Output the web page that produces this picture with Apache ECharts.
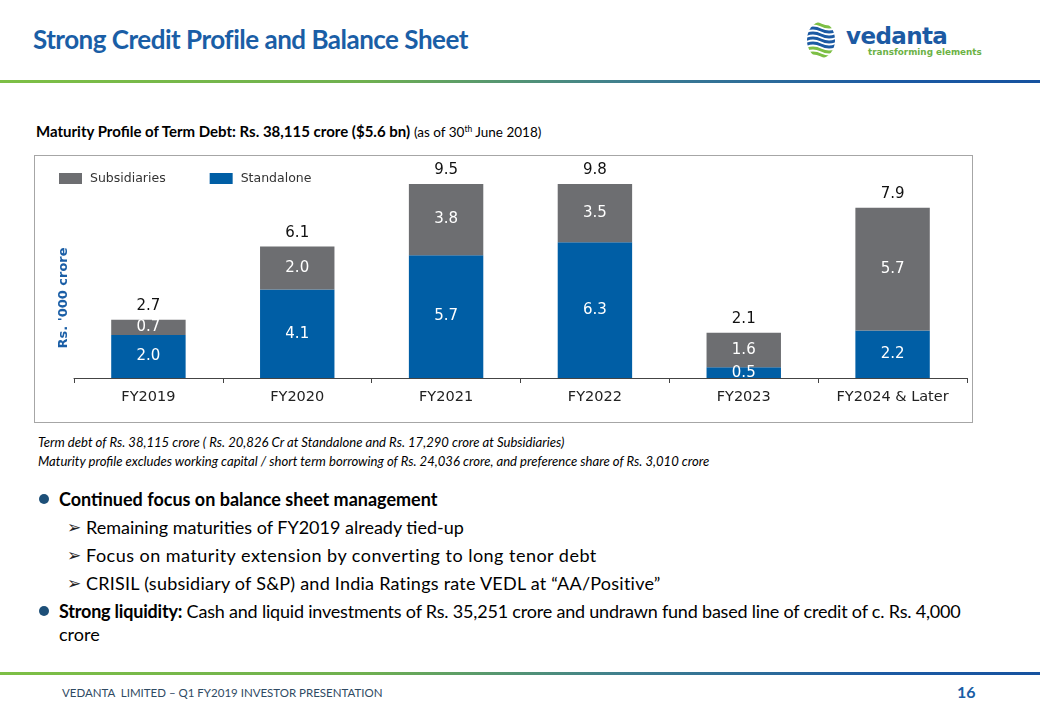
<!DOCTYPE html>
<html>
<head>
<meta charset="utf-8">
<script src="https://cdn.jsdelivr.net/npm/echarts@6/dist/echarts.min.js"></script>
<style>
  html, body { margin:0; padding:0; background:#fff; }
  body { width:1040px; height:720px; position:relative; overflow:hidden; font-family: Lato, "Open Sans", sans-serif; color:#000; }
  .t { position:absolute; white-space:nowrap; line-height:24px; }
  .rule { position:absolute; left:0; width:1040px; height:3px; background:linear-gradient(to right, #7dbf45 0%, #6fb04f 35%, #3f7f8f 60%, #1c5aa3 85%, #16529f 100%); }
  .dot { position:absolute; width:10px; height:10px; border-radius:50%; background:#1d4f78; }
  .arr { position:absolute; font-family:"DejaVu Sans"; font-size:17px; line-height:20px; color:#222; }
  #box { position:absolute; left:34px; top:155px; width:937px; height:266px; border:1px solid #a6a6a6; }
  #chart { position:absolute; left:-1px; top:-1px; width:939px; height:268px; }
</style>
</head>
<body>
<div class="t" style="left:33px; top:21px; font-size:26px; line-height:36px; font-weight:700; color:#1a5ea6; letter-spacing:-0.5px;">Strong Credit Profile and Balance Sheet</div>

<svg style="position:absolute; left:805px; top:20px;" width="32" height="40" viewBox="0 0 32 40">
  <defs><clipPath id="c"><ellipse cx="16" cy="20" rx="14" ry="18"/></clipPath></defs>
  <g clip-path="url(#c)" fill="none" stroke-width="3" stroke-linecap="round">
    <path d="M0 5 Q8 1 16 5 T32 5" stroke="#7dbf45"/>
    <path d="M0 10 Q8 6 16 10 T32 10" stroke="#1c5aa3"/>
    <path d="M0 15 Q8 11 16 15 T32 15" stroke="#1c5aa3"/>
    <path d="M0 20 Q8 16 16 20 T32 20" stroke="#1c5aa3"/>
    <path d="M0 25 Q8 21 16 25 T32 25" stroke="#1c5aa3"/>
    <path d="M0 30 Q8 26 16 30 T32 30" stroke="#7dbf45"/>
    <path d="M0 35 Q8 31 16 35 T32 35" stroke="#7dbf45"/>
  </g>
</svg>
<div class="t" style="left:846px; top:22px; font-family:'DejaVu Sans'; font-weight:700; font-size:23px; line-height:28px; color:#1c5aa3; letter-spacing:-0.6px;">vedanta</div>
<div class="t" style="left:868px; top:45px; font-family:'DejaVu Sans'; font-weight:700; font-size:8.8px; line-height:14px; color:#6cb245;">transforming elements</div>

<div class="rule" style="top:80px;"></div>

<div class="t" style="left:36px; top:116px; font-size:15px; line-height:24px;"><b>Maturity Profile of Term Debt: Rs. 38,115 crore ($5.6 bn)</b> <span style="font-size:13.5px;">(as of 30<sup style="font-size:8.5px;">th</sup> June 2018)</span></div>

<div id="box"><div id="chart"></div></div>

<div class="t" style="left:38px; top:432px; font-size:13.1px; line-height:20px; font-style:italic;">Term debt of Rs. 38,115 crore ( Rs. 20,826 Cr at Standalone and Rs. 17,290 crore at Subsidiaries)</div>
<div class="t" style="left:38px; top:451px; font-size:13.1px; line-height:20px; font-style:italic;">Maturity profile excludes working capital / short term borrowing of Rs. 24,036 crore, and preference share of Rs. 3,010 crore</div>

<div class="dot" style="left:39px; top:494px;"></div>
<div class="t" style="left:59px; top:487px; font-size:18px; font-weight:700;">Continued focus on balance sheet management</div>
<div class="arr" style="left:67px; top:517px;">➢</div>
<div class="t" style="left:86px; top:515px; font-size:18px;">Remaining maturities of FY2019 already tied-up</div>
<div class="arr" style="left:67px; top:545px;">➢</div>
<div class="t" style="left:86px; top:543px; font-size:18px; letter-spacing:0.48px;">Focus on maturity extension by converting to long tenor debt</div>
<div class="arr" style="left:67px; top:573px;">➢</div>
<div class="t" style="left:86px; top:571px; font-size:18px; letter-spacing:0.24px;">CRISIL (subsidiary of S&amp;P) and India Ratings rate VEDL at “AA/Positive”</div>
<div class="dot" style="left:39px; top:606px;"></div>
<div class="t" style="left:59px; top:599px; font-size:18px; letter-spacing:-0.2px;"><b>Strong liquidity:</b> Cash and liquid investments of Rs. 35,251 crore and undrawn fund based line of credit of c. Rs. 4,000</div>
<div class="t" style="left:59px; top:622px; font-size:18px;">crore</div>

<div class="rule" style="top:672px;"></div>
<div class="t" style="left:62px; top:682px; font-size:11.5px; line-height:22px; color:#2f4a63;">VEDANTA&nbsp; LIMITED – Q1 FY2019 INVESTOR PRESENTATION</div>
<div class="t" style="left:957px; top:681px; font-size:16px; line-height:22px; font-weight:700; color:#1a5ea6;">16</div>

<script>
const categories = ['FY2019', 'FY2020', 'FY2021', 'FY2022', 'FY2023', 'FY2024 & Later'];
const standalone = [2.0, 4.1, 5.7, 6.3, 0.5, 2.2];
const subsidiaries = [0.7, 2.0, 3.8, 3.5, 1.6, 5.7];
const totals = [2.7, 6.1, 9.5, 9.8, 2.1, 7.9];
const yMax = 9;

const chart = echarts.init(document.getElementById('chart'), null, { renderer: 'canvas' });
const FONT = 'DejaVu Sans';
chart.setOption({
  animation: false,
  textStyle: { fontFamily: FONT },
  legend: {
    data: ['Subsidiaries', 'Standalone'],
    left: 20, top: 12,
    itemWidth: 23, itemHeight: 11, itemGap: 44,
    icon: 'rect',
    textStyle: { fontFamily: FONT, fontSize: 12.5, color: '#333', padding: [3, 0, 0, 3] }
  },
  grid: { left: 40, right: 6, top: 29, bottom: 45, containLabel: false },
  xAxis: {
    type: 'category',
    data: categories,
    axisLine: { lineStyle: { color: '#444', width: 1 } },
    axisTick: { show: true, length: 5, lineStyle: { color: '#444' } },
    axisLabel: { fontFamily: FONT, fontSize: 14.5, color: '#222', margin: 12 }
  },
  yAxis: {
    type: 'value', min: 0, max: yMax,
    name: "Rs. '000 crore",
    nameLocation: 'middle', nameRotate: 90, nameGap: 4,
    nameTextStyle: { fontFamily: FONT, fontWeight: 'bold', fontSize: 13, color: '#1a5ea6', padding: [0, 34, 0, 0] },
    axisLine: { show: false }, axisTick: { show: false },
    axisLabel: { show: false }, splitLine: { show: false }
  },
  series: [
    {
      name: 'Standalone', type: 'bar', stack: 'debt', barWidth: '50%',
      data: standalone, clip: true,
      itemStyle: { color: '#005ea5' },
      label: { show: true, position: 'inside', color: '#fff', fontFamily: FONT, fontSize: 15,
               formatter: p => p.value.toFixed(1) }
    },
    {
      name: 'Subsidiaries', type: 'bar', stack: 'debt', barWidth: '50%',
      data: subsidiaries, clip: true,
      itemStyle: { color: '#6d6e71' },
      label: { show: true, position: 'inside', color: '#fff', fontFamily: FONT, fontSize: 15,
               formatter: p => p.value.toFixed(1) }
    },
    {
      name: 'Total', type: 'bar', barWidth: '50%', barGap: '-100%',
      data: totals, clip: true, silent: true,
      itemStyle: { color: 'rgba(0,0,0,0)' },
      label: { show: true, position: 'top', distance: 6, color: '#111', fontFamily: FONT, fontSize: 15,
               formatter: p => p.value.toFixed(1) }
    }
  ]
});
</script>
</body>
</html>
